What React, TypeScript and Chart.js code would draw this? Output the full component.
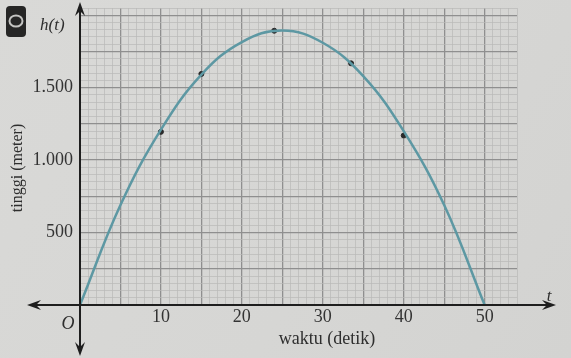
import React, { useEffect, useRef } from "react";
import { Chart, registerables } from "chart.js";

Chart.register(...registerables);

// Curve: time (s) vs height (m)
const times = [0, 5, 10, 15, 20, 25, 30, 35, 40, 45, 50];
const heights = [0, 690, 1210, 1590, 1815, 1895, 1810, 1580, 1200, 690, 0];

// Marked dots on the curve
const markTimes = [10, 15, 24, 33.5, 40];
const markHeights = [1195, 1595, 1893, 1668, 1170];

const xTickLabels = [10, 20, 30, 40, 50];
const yTickLabels = [500, 1000, 1500];

const X_MAX = 54;
const Y_MAX = 2050;

const SERIF = "'Liberation Serif', 'DejaVu Serif', serif";

function fmtThousands(v: number): string {
  const s = String(v);
  return s.length > 3 ? s.slice(0, s.length - 3) + "." + s.slice(s.length - 3) : s;
}

function arrowHead(ctx: CanvasRenderingContext2D, x: number, y: number, angle: number) {
  const len = 14;
  const half = 5;
  ctx.save();
  ctx.translate(x, y);
  ctx.rotate(angle);
  ctx.beginPath();
  ctx.moveTo(0, 0);
  ctx.lineTo(-len, -half);
  ctx.lineTo(-len * 0.65, 0);
  ctx.lineTo(-len, half);
  ctx.closePath();
  ctx.fill();
  ctx.restore();
}

const backgroundPlugin = {
  id: "paper",
  beforeDraw(chart: any) {
    const { ctx, width, height } = chart;
    ctx.save();
    const g = ctx.createLinearGradient(0, 0, width, height);
    g.addColorStop(0, "#d9d9d7");
    g.addColorStop(0.6, "#d6d6d4");
    g.addColorStop(1, "#d3d3d1");
    ctx.fillStyle = g;
    ctx.fillRect(0, 0, width, height);
    ctx.restore();
  },
};

const overlayPlugin = {
  id: "overlay",
  afterDraw(chart: any) {
    const { ctx } = chart;
    const xs = chart.scales.x;
    const ys = chart.scales.y;
    const x0 = xs.getPixelForValue(0);
    const y0 = ys.getPixelForValue(0);
    ctx.save();
    ctx.strokeStyle = "#1e1e1e";
    ctx.fillStyle = "#1e1e1e";
    ctx.lineWidth = 2;
    // x axis
    ctx.beginPath();
    ctx.moveTo(30, y0);
    ctx.lineTo(553, y0);
    ctx.stroke();
    arrowHead(ctx, 556, y0, 0);
    arrowHead(ctx, 27, y0, Math.PI);
    // y axis
    ctx.beginPath();
    ctx.moveTo(x0, 6);
    ctx.lineTo(x0, 352);
    ctx.stroke();
    arrowHead(ctx, x0, 2, -Math.PI / 2);
    arrowHead(ctx, x0, 356, Math.PI / 2);

    // labels
    ctx.fillStyle = "#2e2e2e";
    ctx.textBaseline = "alphabetic";
    ctx.font = `italic 18px ${SERIF}`;
    ctx.textAlign = "center";
    ctx.fillText("O", 68, 329);
    ctx.font = `italic 17px ${SERIF}`;
    ctx.fillText("t", 549, 301);
    ctx.textAlign = "left";
    ctx.fillText("h(t)", 40, 30);

    ctx.font = `18px ${SERIF}`;
    ctx.textAlign = "center";
    ctx.fillText("waktu (detik)", 327, 344);

    ctx.save();
    ctx.translate(22, 168);
    ctx.rotate(-Math.PI / 2);
    ctx.font = `16px ${SERIF}`;
    ctx.textAlign = "center";
    ctx.fillText("tinggi (meter)", 0, 0);
    ctx.restore();

    // small icon top-left
    ctx.fillStyle = "#262626";
    ctx.beginPath();
    const r = 4;
    const ix = 6, iy = 6, iw = 20, ih = 31;
    ctx.moveTo(ix + r, iy);
    ctx.lineTo(ix + iw - r, iy);
    ctx.quadraticCurveTo(ix + iw, iy, ix + iw, iy + r);
    ctx.lineTo(ix + iw, iy + ih - r);
    ctx.quadraticCurveTo(ix + iw, iy + ih, ix + iw - r, iy + ih);
    ctx.lineTo(ix + r, iy + ih);
    ctx.quadraticCurveTo(ix, iy + ih, ix, iy + ih - r);
    ctx.lineTo(ix, iy + r);
    ctx.quadraticCurveTo(ix, iy, ix + r, iy);
    ctx.fill();
    ctx.strokeStyle = "#c4c4c2";
    ctx.lineWidth = 2;
    ctx.beginPath();
    ctx.ellipse(16, 21, 6.5, 5.5, 0, 0, Math.PI * 2);
    ctx.stroke();
    ctx.restore();
  },
};

export default function App() {
  const ref = useRef<HTMLCanvasElement | null>(null);

  useEffect(() => {
    document.body.style.margin = "0";
    const canvas = ref.current;
    if (!canvas) return;
    const chart = new Chart(canvas, {
      type: "line",
      data: {
        datasets: [
          {
            label: "h(t)",
            data: times.map((t, i) => ({ x: t, y: heights[i] })),
            borderColor: "#5d98a3",
            borderWidth: 2.5,
            pointRadius: 0,
            tension: 0.4,
            fill: false,
          },
          {
            label: "titik",
            data: markTimes.map((t, i) => ({ x: t, y: markHeights[i] })),
            showLine: false,
            pointRadius: 2.5,
            pointBackgroundColor: "#2a2a2a",
            pointBorderColor: "#2a2a2a",
          },
        ],
      },
      options: {
        responsive: false,
        animation: false,
        layout: { padding: { left: 8, top: 8, right: 54, bottom: 0 } },
        plugins: {
          legend: { display: false },
          tooltip: { enabled: false },
        },
        scales: {
          x: {
            type: "linear",
            min: 0,
            max: X_MAX,
            border: { display: false },
            grid: {
              drawTicks: false,
              color: (c: any) => (c.tick && c.tick.value % 5 === 0 ? "#8f8f8f" : "#b9b9b7"),
              lineWidth: (c: any) => (c.tick && c.tick.value % 5 === 0 ? 1.3 : 0.7),
            },
            ticks: {
              stepSize: 1,
              autoSkip: false,
              maxRotation: 0,
              padding: 1,
              color: "#333333",
              font: { family: SERIF, size: 18 },
              callback: (v: any) => (xTickLabels.includes(Number(v)) ? String(v) : ""),
            },
            afterFit: (s: any) => {
              s.height = 53;
              s.paddingLeft = 0;
              s.paddingRight = 0;
            },
          },
          y: {
            type: "linear",
            min: 0,
            max: Y_MAX,
            border: { display: false },
            grid: {
              drawTicks: false,
              color: (c: any) => (c.tick && c.tick.value % 250 === 0 ? "#8f8f8f" : "#b9b9b7"),
              lineWidth: (c: any) => (c.tick && c.tick.value % 250 === 0 ? 1.3 : 0.7),
            },
            ticks: {
              stepSize: 50,
              autoSkip: false,
              padding: 7,
              color: "#333333",
              font: { family: SERIF, size: 18 },
              callback: (v: any) => (yTickLabels.includes(Number(v)) ? fmtThousands(Number(v)) : ""),
            },
            afterFit: (s: any) => {
              s.width = 72;
              s.paddingTop = 0;
              s.paddingBottom = 0;
            },
          },
        },
      },
      plugins: [backgroundPlugin, overlayPlugin],
    } as any);
    return () => chart.destroy();
  }, []);

  return (
    <div style={{ position: "absolute", left: 0, top: 0, width: 571, height: 358 }}>
      <canvas ref={ref} width={571} height={358} style={{ display: "block" }} />
    </div>
  );
}
